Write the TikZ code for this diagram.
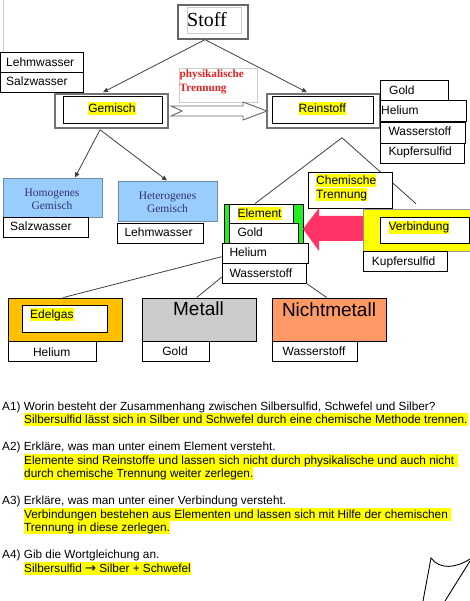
\documentclass[tikz,border=0pt]{standalone}
\usepackage{fontspec}
\setmainfont{Liberation Sans}
\newfontfamily\serifff{Liberation Serif}
\newfontfamily\dejavu{DejaVu Sans}
\usetikzlibrary{arrows.meta}
\definecolor{hly}{HTML}{FFFF00}
\definecolor{lblue}{HTML}{99CCFF}
\definecolor{lbluebd}{HTML}{6E8BAA}
\definecolor{bluetxt}{HTML}{333366}
\definecolor{elgreen}{HTML}{22EE22}
\definecolor{redarr}{HTML}{FF3366}
\definecolor{orng}{HTML}{FFC000}
\definecolor{metgray}{HTML}{CCCCCC}
\definecolor{salmon}{HTML}{FF9966}
\definecolor{physred}{HTML}{DD2222}
\newcommand{\hl}[1]{{\setlength{\fboxsep}{0pt}\colorbox{hly}{\rule[-2.5pt]{0pt}{13pt}#1}}}
\newcommand{\bx}[6]{\pgfmathsetmacro\myBW{#4-#2}\pgfmathsetmacro\myBH{#5-#3}%
  \node[#6, inner sep=0pt, minimum width=\myBW pt, minimum height=\myBH pt] (#1) at ({(#2+#4)/2},{(#3+#5)/2}) {};}
\begin{document}
\begin{tikzpicture}[x=1pt,y=-1pt,
  txt/.style={inner sep=0pt, font=\fontsize{12}{14}\selectfont},
  box/.style={draw=black, line width=0.9pt, fill=white},
  outer/.style={draw=black!55, line width=1.5pt, fill=white},
  conn/.style={draw=black!75, line width=0.8pt},
  tip/.style={-{Triangle[length=5pt,width=4.5pt]}},
  bluebox/.style={draw=lbluebd, line width=1pt, fill=lblue},
  bluetext/.style={inner sep=0pt, font=\serifff\fontsize{11.5}{13}\selectfont, text=bluetxt, anchor=base},
  qa/.style={inner sep=0pt, font=\fontsize{11.8}{14}\selectfont, anchor=base west}]
\fill[white] (0,0) rectangle (470,601);
\useasboundingbox (0,0) rectangle (470,601);
\draw[black!20, line width=1pt] (3,0) -- (3,52);

% Stoff
\bx{stoffo}{178}{5}{248}{39}{draw=black!60, line width=1.3pt, fill=white}
\bx{stoffi}{187}{8}{241}{34}{draw=black!20, line width=1pt, fill=white}
\node[inner sep=0pt, anchor=base west, font=\serifff\fontsize{20}{22}\selectfont] (stofft) at (187,26.7) {Stoff};

% left list
\bx{lehma}{0}{52}{83}{72}{box}
\node[txt, anchor=base west] (lehmat) at (6,66.3) {Lehmwasser};
\bx{salza}{0}{72}{83}{92}{box}
\node[txt, anchor=base west] (salzat) at (6,86) {Salzwasser};

% Gemisch
\bx{gemo}{55}{94}{168}{128}{outer}
\bx{gemi}{63}{96}{162}{123}{box}
\node[txt, anchor=base] (gemt) at (112,112.3) {\hl{Gemisch}};

% Reinstoff
\bx{reino}{267}{94}{380}{128}{outer}
\bx{reini}{272}{96}{373}{123}{box}
\node[txt, anchor=base] (reint) at (322.3,112.3) {\hl{Reinstoff}};

% right list
\bx{golda}{380}{80}{448}{100}{box}
\node[txt, anchor=base west] (goldat) at (389,94.7) {Gold};
\bx{hela}{380}{100}{466}{121}{box}
\node[txt, anchor=base west] (helat) at (381,115) {Helium};
\bx{wasa}{380}{122}{465}{143}{box}
\node[txt, anchor=base west] (wasat) at (388.3,136) {Wasserstoff};
\bx{kupa}{380}{143}{464}{163}{box}
\node[txt, anchor=base west] (kupat) at (388.3,156) {Kupfersulfid};

% physikalische Trennung
\bx{physbox}{179}{68}{257}{102}{draw=black!20, line width=0.8pt, fill=white}
\node[inner sep=0pt, anchor=base west, font=\serifff\bfseries\fontsize{11.2}{13}\selectfont, text=physred] (phys1) at (179.5,78) {physikalische};
\node[inner sep=0pt, anchor=base west, font=\serifff\bfseries\fontsize{11.2}{13}\selectfont, text=physred] (phys2) at (179.5,92) {Trennung};
\draw[fill=white, draw=black!60, line width=0.9pt] (171,106) -- (243,106) -- (243,102) -- (267,111) -- (243,120) -- (243,116) -- (171,116) -- (182,111) -- cycle;

% Stoff connectors
\draw[conn, tip] ([xshift=-8pt]stoffo.south) -- ([xshift=-8.5pt,yshift=1pt]gemo.north);
\draw[conn, tip] ([xshift=-8pt]stoffo.south) -- ([xshift=-16.5pt,yshift=1pt]reino.north);

% Gemisch children
\bx{homo}{3}{179}{102}{218}{bluebox}
\node[bluetext] (homo1) at (52,196.7) {Homogenes};
\node[bluetext] (homo2) at (52,209.3) {Gemisch};
\bx{salzb}{3}{217}{88}{237}{box}
\node[txt, anchor=base west] (salzbt) at (10,230.7) {Salzwasser};
\bx{het}{118}{182}{217}{222}{bluebox}
\node[bluetext] (het1) at (167.5,199.3) {Heterogenes};
\node[bluetext] (het2) at (167.5,212.3) {Gemisch};
\bx{lehmb}{117}{223}{203}{243}{box}
\node[txt, anchor=base west] (lehmbt) at (124.3,236.7) {Lehmwasser};
\coordinate (gapex) at ([xshift=-11.5pt,yshift=-1pt]gemo.south);
\draw[conn, tip] (gapex) -- ([xshift=22.5pt,yshift=1pt]homo.north);
\draw[conn, tip] (gapex) -- ([xshift=-0.5pt,yshift=1pt]het.north);

% Element cluster
\bx{elgr}{224}{204}{303}{243}{draw=black, line width=0.8pt, fill=elgreen}
\bx{elem}{229}{204}{293}{223}{box}
\node[txt, anchor=base west] (elemt) at (237.3,217.3) {\hl{Element}};
\bx{goldb}{229}{223}{298}{243}{box}
\node[txt, anchor=base west] (goldbt) at (237.3,236.3) {Gold};
\bx{helb}{222}{243}{308}{263}{box}
\node[txt, anchor=base west] (helbt) at (229.3,256.7) {Helium};
\bx{wasb}{222}{263}{306}{283}{box}
\node[txt, anchor=base west] (wasbt) at (229.3,277.3) {Wasserstoff};

% Verbindung
\bx{verbo}{363}{209}{474}{251}{draw=black!40, line width=0.6pt, fill=hly}
\bx{verbi}{380}{217}{469}{243}{box}
\node[txt, anchor=base west] (verbt) at (388.3,231) {\hl{Verbindung}};
\bx{kupb}{363}{251}{447}{271}{box}
\node[txt, anchor=base west] (kupbt) at (371.7,265.3) {Kupfersulfid};

% Reinstoff children lines
\coordinate (rapex) at ([xshift=18.5pt,yshift=-9pt]reino.south);
\draw[conn] (rapex) -- ([xshift=-8.5pt]elgr.north);
\draw[conn] (rapex) -- ([xshift=-2.5pt,yshift=5pt]verbo.north);

% Chemische Trennung
\bx{chem}{308}{172}{392}{208}{box}
\node[txt, anchor=base west] (chem1) at (316,185) {\hl{Chemische}};
\node[txt, anchor=base west] (chem2) at (316,198.3) {\hl{Trennung}};
\fill[redarr] (303,229) -- (319,208) -- (319,216) -- (363,216) -- (363,241) -- (319,241) -- (319,251) -- cycle;

% bottom row
\bx{edelo}{8}{298}{122}{341}{draw=black, line width=0.9pt, fill=orng}
\bx{edeli}{22}{305}{107}{332}{box}
\node[txt, anchor=base west] (edelt) at (30,318.3) {\hl{Edelgas}};
\bx{helc}{8}{341}{96}{361}{box}
\node[txt, anchor=base] (helct) at (51.7,356) {Helium};
\bx{met}{142}{298}{256}{341}{draw=black, line width=0.9pt, fill=metgray}
\node[inner sep=0pt, anchor=base, font=\fontsize{19}{22}\selectfont] (mett) at (198.5,315) {Metall};
\bx{goldc}{142}{341}{209}{361}{box}
\node[txt, anchor=base] (goldct) at (175,355.3) {Gold};
\bx{nicht}{272}{298}{386}{341}{draw=black, line width=0.9pt, fill=salmon}
\node[inner sep=0pt, anchor=base, font=\fontsize{19}{22}\selectfont] (nichtt) at (329,316.7) {Nichtmetall};
\bx{wasc}{272}{341}{357}{361}{box}
\node[txt, anchor=base] (wasct) at (314,355.3) {Wasserstoff};

\draw[conn] ([yshift=-3.7pt]helb.west) -- ([xshift=-1.7pt]edelo.north);
\draw[conn] ([yshift=-4.3pt]wasb.west) -- ([xshift=-2.3pt]met.north);
\draw[conn] (wasb.south east) -- ([xshift=-2.3pt]nicht.north);

% questions
\node[qa] (q1) at (2,410) {A1) Worin besteht der Zusammenhang zwischen Silbersulfid, Schwefel und Silber?};
\node[qa] (a1) at (24,423.3) {\hl{Silbersulfid lässt sich in Silber und Schwefel durch eine chemische Methode trennen.}};
\node[qa] (q2) at (2,450) {A2) Erkläre, was man unter einem Element versteht.};
\node[qa] (a2a) at (24,464) {\hl{Elemente sind Reinstoffe und lassen sich nicht durch physikalische und auch nicht\ }};
\node[qa] (a2b) at (24,477.7) {\hl{durch chemische Trennung weiter zerlegen.}};
\node[qa] (q3) at (2,504) {A3) Erkläre, was man unter einer Verbindung versteht.};
\node[qa] (a3a) at (24,518) {\hl{Verbindungen bestehen aus Elementen und lassen sich mit Hilfe der chemischen\ }};
\node[qa] (a3b) at (24,531.7) {\hl{Trennung in diese zerlegen.}};
\node[qa] (q4) at (2,558) {A4) Gib die Wortgleichung an.};
\node[qa] (a4) at (24,572.7) {\hl{Silbersulfid {\dejavu\fontsize{13}{14}\selectfont →} Silber + Schwefel}};

% scribble
\draw[line width=0.9pt] (423,601) -- (431,558) .. controls (440,570) and (456,568) .. (470,559);
\draw[line width=0.9pt] (470,561) -- (445,601);
\end{tikzpicture}
\end{document}
